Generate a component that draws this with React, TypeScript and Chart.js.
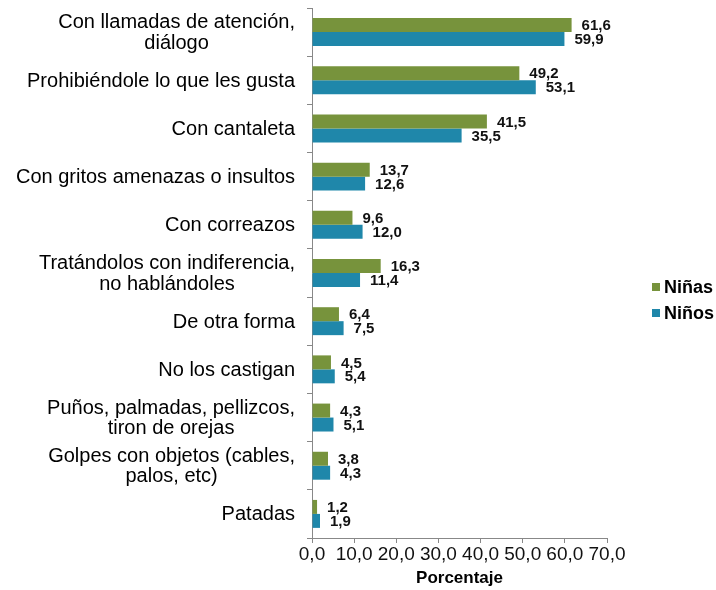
import React, { useEffect, useRef } from "react";
import { Chart, registerables } from "chart.js";

Chart.register(...registerables);

const categories: (string | string[])[] = [
  ["Con llamadas de atención,", "diálogo"],
  "Prohibiéndole lo que les gusta",
  "Con cantaleta",
  "Con gritos amenazas o insultos",
  "Con correazos",
  ["Tratándolos con indiferencia,", "no hablándoles"],
  "De otra forma",
  "No los castigan",
  ["Puños, palmadas, pellizcos,", "tiron de orejas"],
  ["Golpes con objetos (cables,", "palos, etc)"],
  "Patadas",
];

const ninas = [61.6, 49.2, 41.5, 13.7, 9.6, 16.3, 6.4, 4.5, 4.3, 3.8, 1.2];
const ninos = [59.9, 53.1, 35.5, 12.6, 12.0, 11.4, 7.5, 5.4, 5.1, 4.3, 1.9];

const seriesNames = ["Niñas", "Niños"];
const seriesColors = ["#77933C", "#1F87AA"];

const xMin = 0;
const xMax = 70;
const xStep = 10;
const axisTitle = "Porcentaje";

const FONT = '"Liberation Sans", Arial, sans-serif';

const fmt = (v: number) => v.toFixed(1).replace(".", ",");

const customPlugin = {
  id: "customDraw",
  afterDatasetsDraw(chart: any) {
    const ctx = chart.ctx as CanvasRenderingContext2D;
    ctx.save();
    // data labels
    ctx.font = `bold 15px ${FONT}`;
    ctx.fillStyle = "#111";
    ctx.textBaseline = "middle";
    ctx.textAlign = "left";
    chart.data.datasets.forEach((ds: any, di: number) => {
      const meta = chart.getDatasetMeta(di);
      meta.data.forEach((bar: any, i: number) => {
        ctx.fillText(fmt(ds.data[i]), bar.x + 10, bar.y + 1);
      });
    });

    // category labels
    const ys = chart.scales.y;
    ctx.font = `20px ${FONT}`;
    ctx.fillStyle = "#000";
    ctx.textAlign = "center";
    const LH = 20.5;
    categories.forEach((c, i) => {
      const lines = Array.isArray(c) ? c : [c];
      const y = ys.getPixelForValue(i);
      const w = Math.max(...lines.map((l) => ctx.measureText(l).width));
      const right = ys.right - 17;
      const cx = right - w / 2;
      lines.forEach((l, k) => {
        ctx.fillText(l, cx, y + (k - (lines.length - 1) / 2) * LH + 1);
      });
    });

    // legend
    const area = chart.chartArea;
    const lx = area.right + 45;
    const cy = (area.top + area.bottom) / 2 + 27;
    ctx.font = `bold 18px ${FONT}`;
    ctx.textAlign = "left";
    seriesNames.forEach((name, i) => {
      const iy = cy + (i - 0.5) * 26;
      ctx.fillStyle = seriesColors[i];
      ctx.fillRect(lx, iy - 4, 8, 8);
      ctx.fillStyle = "#000";
      ctx.fillText(name, lx + 12, iy + 1);
    });
    ctx.restore();
  },
};

export default function App() {
  const ref = useRef<HTMLCanvasElement | null>(null);
  useEffect(() => {
    document.body.style.margin = "0";
    if (!ref.current) return;
    const chart = new Chart(ref.current, {
      type: "bar",
      data: {
        labels: categories.map((c) => (Array.isArray(c) ? c.join(" ") : c)),
        datasets: [
          {
            label: seriesNames[0],
            data: ninas,
            backgroundColor: seriesColors[0],
            categoryPercentage: 0.58,
            barPercentage: 1,
          },
          {
            label: seriesNames[1],
            data: ninos,
            backgroundColor: seriesColors[1],
            categoryPercentage: 0.58,
            barPercentage: 1,
          },
        ],
      },
      options: {
        indexAxis: "y",
        responsive: false,
        animation: false,
        layout: { padding: { top: 8, right: 109, left: 0, bottom: 0 } },
        plugins: {
          legend: { display: false },
          tooltip: { enabled: false },
        },
        scales: {
          x: {
            min: xMin,
            max: xMax,
            ticks: {
              stepSize: xStep,
              padding: 0,
              color: "#111",
              maxRotation: 0,
              minRotation: 0,
              autoSkip: false,
              font: { family: FONT, size: 19 },
              callback: (v: any) => fmt(Number(v)),
            },
            grid: {
              drawOnChartArea: false,
              drawTicks: true,
              tickLength: 5,
              color: "#888",
            },
            border: { color: "#888" },
            title: {
              display: true,
              text: axisTitle,
              color: "#000",
              font: { family: FONT, size: 17, weight: "bold" },
              padding: { top: 0, bottom: 1 },
            },
            afterFit: (s: any) => {
              s.height = 52;
            },
          },
          y: {
            ticks: { display: false },
            grid: {
              offset: true,
              drawOnChartArea: false,
              drawTicks: true,
              tickLength: 5,
              color: "#888",
            },
            border: { color: "#888" },
            afterFit: (s: any) => {
              s.width = 312;
            },
          },
        },
      },
      plugins: [customPlugin],
    } as any);
    return () => chart.destroy();
  }, []);
  return (
    <div style={{ width: 716, height: 590 }}>
      <canvas ref={ref} width={716} height={590} />
    </div>
  );
}
